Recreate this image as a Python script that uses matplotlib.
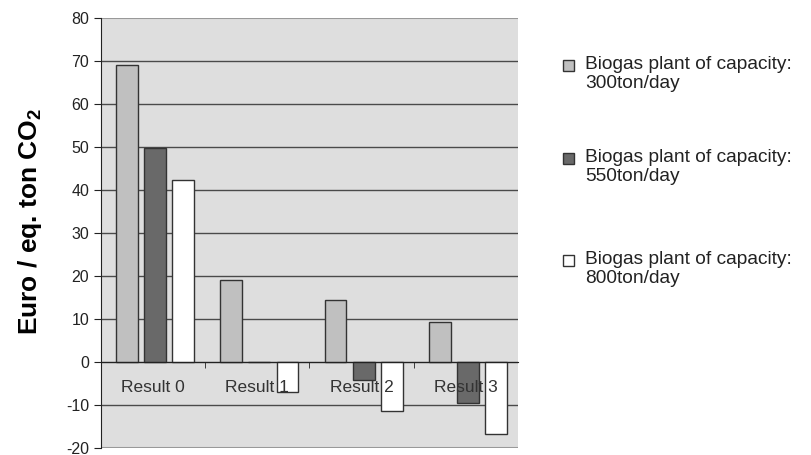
import numpy as np
import matplotlib.pyplot as plt
from matplotlib.patches import Rectangle

plt.rcParams['font.family'] = ['Liberation Sans', 'DejaVu Sans']
plt.rcParams['mathtext.fontset'] = 'custom'
plt.rcParams['mathtext.rm'] = 'Liberation Sans:bold'
plt.rcParams['mathtext.bf'] = 'Liberation Sans:bold'
plt.rcParams['axes.unicode_minus'] = False

# euro per equivalent ton of CO2 for each scenario
categories = ['Result 0', 'Result 1', 'Result 2', 'Result 3']
cap_300 = [69, 19, 14.5, 9.2]
cap_550 = [49.8, 0, -4.2, -9.6]
cap_800 = [42.3, -7, -11.5, -16.8]
series_labels = ['Biogas plant of capacity:\n300ton/day',
                 'Biogas plant of capacity:\n550ton/day',
                 'Biogas plant of capacity:\n800ton/day']
colors = ['#c0c0c0', '#696969', '#ffffff']

fig = plt.figure(figsize=(8.11, 4.55), dpi=100)
ax = fig.add_axes([0.1245, 0.0154, 0.514, 0.945])
ax.set_facecolor('#dedede')

x = np.arange(len(categories))
width = 0.21
step = 0.27
for k, vals in enumerate([cap_300, cap_550, cap_800]):
    ax.bar(x + (k - 1) * step + 0.02, vals, width=width, color=colors[k],
           edgecolor='#333333', linewidth=1.0, zorder=2)

ax.set_xlim(-0.5, 3.5)
ax.set_ylim(-20, 80)
ax.set_yticks(np.arange(-20, 81, 10))

# horizontal gridlines
for v in range(-10, 80, 10):
    ax.axhline(v, color='#4a4a4a', linewidth=1.0, zorder=1)
ax.axhline(80, color='#999999', linewidth=1.5, zorder=1)
ax.axhline(-20, color='#999999', linewidth=1.5, zorder=1)

for s in ['top', 'right']:
    ax.spines[s].set_visible(False)
ax.spines['left'].set_color('#222222')
ax.spines['bottom'].set_position(('data', 0))
ax.spines['bottom'].set_color('#222222')

# category labels hang under the zero line, small ticks between groups
ax.set_xticks(x)
ax.set_xticklabels(categories, fontsize=12.5, color='#333333')
ax.set_xticks(x[:-1] + 0.5, minor=True)
ax.tick_params(axis='x', which='major', length=0, pad=13)
ax.tick_params(axis='x', which='minor', length=4, direction='out', color='#222222')
ax.tick_params(axis='y', length=5, direction='out', pad=3.5, labelsize=11.5,
               color='#222222', labelcolor='#222222')
ax.xaxis.set_zorder(3)

ax.set_ylabel(r'Euro / eq. ton CO$_\mathbf{2}$', fontsize=19, fontweight='bold')
ax.yaxis.set_label_coords(-0.137, 0.526)

# legend drawn by hand so each square sits beside the first text line
legend_y = [65, 158, 260]
for k, lab in enumerate(series_labels):
    yc = 1 - legend_y[k] / 455
    fig.patches.append(Rectangle((563 / 811, yc - 6 / 455), 11 / 811, 11 / 455,
                                 transform=fig.transFigure, facecolor=colors[k],
                                 edgecolor='#333333', linewidth=1.0))
    fig.text(585 / 811, yc + 9 / 455, lab, fontsize=13.8, va='top', ha='left',
             color='#222222', linespacing=1.12)

fig.savefig('out.png', dpi=100)
